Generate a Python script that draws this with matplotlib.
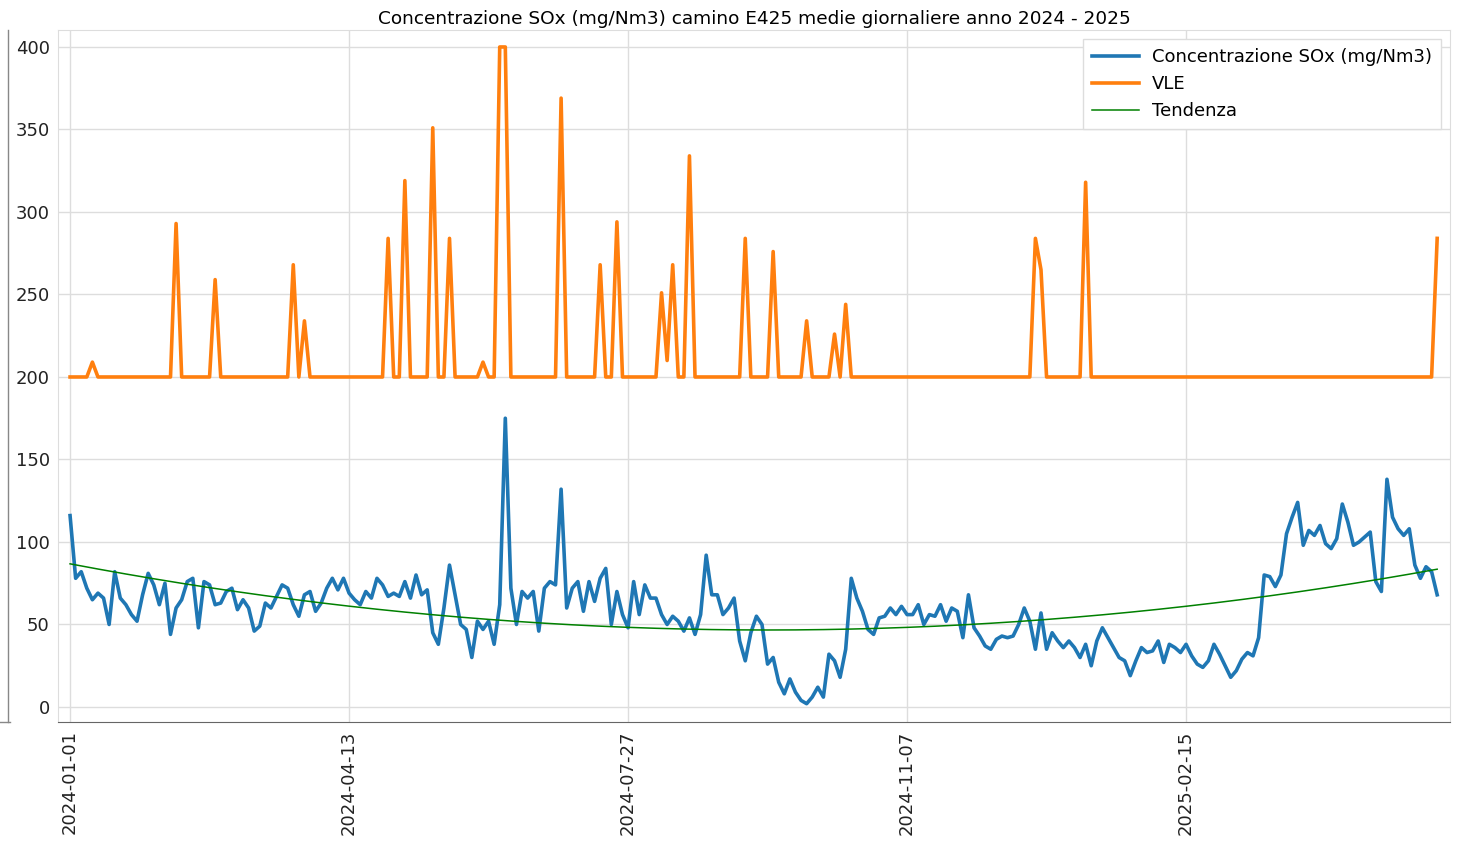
import numpy as np
import matplotlib.pyplot as plt
from matplotlib.lines import Line2D

# medie giornaliere SOx (un valore ogni 2 righe del dataset)
sox = [116, 78, 82, 72, 65, 69, 66, 50, 82, 66, 62, 56, 52, 68, 81, 74, 62, 75, 44, 60,
       65, 76, 78, 48, 76, 74, 62, 63, 70, 72, 59, 65, 60, 46, 49, 63, 60, 67, 74, 72,
       62, 55, 68, 70, 58, 63, 72, 78, 71, 78, 69,
       65, 62, 70, 66, 78, 74, 67, 69, 67, 76, 66, 80, 68, 71, 45, 38, 60, 86, 68, 50,
       47, 30, 52, 47, 52, 38, 62, 175, 72, 50, 70, 66, 70, 46, 72, 76, 74, 132, 60, 72,
       76, 58, 76, 64, 78, 84, 50, 70, 56, 48,
       76, 56, 74, 66, 66, 56, 50, 55, 52, 46, 54, 44, 56, 92, 68, 68, 56, 60, 66, 40,
       28, 45, 55, 50, 26, 30, 15, 8, 17, 9, 4, 2, 6, 12, 6, 32, 28, 18, 35, 78,
       66, 58, 47, 44, 54, 55, 60, 56, 61, 56,
       56, 62, 50, 56, 55, 62, 52, 60, 58, 42, 68, 48, 43, 37, 35, 41, 43, 42, 43, 50,
       60, 52, 35, 57, 35, 45, 40, 36, 40, 36, 30, 38, 25, 40, 48, 42, 36, 30, 28, 19,
       28, 36, 33, 34, 40, 27, 38, 36, 33, 38,
       31, 26, 24, 28, 38, 32, 25, 18, 22, 29, 33, 31, 42, 80, 79, 73, 80, 105, 115, 124,
       98, 107, 104, 110, 99, 96, 102, 123, 112, 98, 100, 103, 106, 76, 70, 138, 115, 108, 104, 108,
       86, 78, 85, 82, 68]

# valore limite di emissione
vle = [200, 200, 200, 200, 209, 200, 200, 200, 200, 200,
       200, 200, 200, 200, 200, 200, 200, 200, 200, 293,
       200, 200, 200, 200, 200, 200, 259, 200, 200, 200,
       200, 200, 200, 200, 200, 200, 200, 200, 200, 200,
       268, 200, 234, 200, 200, 200, 200, 200, 200, 200,
       200, 200, 200, 200, 200, 200, 200, 284, 200, 200,
       319, 200, 200, 200, 200, 351, 200, 200, 284, 200,
       200, 200, 200, 200, 209, 200, 200, 400, 400, 200,
       200, 200, 200, 200, 200, 200, 200, 200, 369, 200,
       200, 200, 200, 200, 200, 268, 200, 200, 294, 200,
       200, 200, 200, 200, 200, 200, 251, 210, 268, 200,
       200, 334, 200, 200, 200, 200, 200, 200, 200, 200,
       200, 284, 200, 200, 200, 200, 276, 200, 200, 200,
       200, 200, 234, 200, 200, 200, 200, 226, 200, 244,
       200, 200, 200, 200, 200, 200, 200, 200, 200, 200,
       200, 200, 200, 200, 200, 200, 200, 200, 200, 200,
       200, 200, 200, 200, 200, 200, 200, 200, 200, 200,
       200, 200, 200, 284, 265, 200, 200, 200, 200, 200,
       200, 200, 318, 200, 200, 200, 200, 200, 200, 200,
       200, 200, 200, 200, 200, 200, 200, 200, 200, 200,
       200, 200, 200, 200, 200, 200, 200, 200, 200, 200,
       200, 200, 200, 200, 200, 200, 200, 200, 200, 200,
       200, 200, 200, 200, 200, 200, 200, 200, 200, 200,
       200, 200, 200, 200, 200, 200, 200, 200, 200, 200,
       200, 200, 200, 200, 200, 284]

tick_pos = [0, 100, 200, 300, 400]
tick_labels = ['2024-01-01', '2024-04-13', '2024-07-27', '2024-11-07', '2025-02-15']

x = np.arange(len(sox)) * 2
sox = np.array(sox, dtype=float)
vle = np.array(vle, dtype=float)

# tendenza polinomiale di 2 grado
coef = np.polyfit(x, sox, 2)
trend = np.polyval(coef, x)

fig = plt.figure(figsize=(14.7, 8.42), dpi=100)
ax = fig.add_axes([0.0395, 0.1425, 0.9469, 0.8219])

ax.plot(x, sox, color='#1f77b4', lw=2.6, label='Concentrazione SOx (mg/Nm3)')
ax.plot(x, vle, color='#ff7f0e', lw=2.6, label='VLE')
ax.plot(x, trend, color='green', lw=1.1, label='Tendenza')

ax.set_xlim(-4.3, 494.6)
ax.set_ylim(-9.1, 410.3)
ax.set_xticks(tick_pos)
ax.set_xticklabels(tick_labels, rotation=90)
ax.set_yticks([0, 50, 100, 150, 200, 250, 300, 350, 400])
ax.tick_params(length=0, labelsize=13, pad=6, colors='#222222')
ax.grid(True, color='#dddddd', lw=1)
ax.set_axisbelow(True)
for s in ['top', 'left', 'right']:
    ax.spines[s].set_color('#dddddd')
ax.spines['bottom'].set_color('#666666')

ax.set_title('Concentrazione SOx (mg/Nm3) camino E425 medie giornaliere anno 2024 - 2025',
             fontsize=13.3, pad=4)
ax.legend(loc='upper right', fontsize=13, framealpha=1, edgecolor='#dddddd',
          fancybox=False, borderpad=0.5, handlelength=2.6, handletextpad=0.7)

# bordo della figura precedente (ritaglio)
fig.add_artist(Line2D([8 / 1470, 8 / 1470], [1 - 30 / 842, 1 - 722 / 842],
                      color='#888888', lw=1))
fig.add_artist(Line2D([0, 10 / 1470], [1 - 722 / 842, 1 - 722 / 842],
                      color='#888888', lw=1))

plt.savefig('out.png', dpi=100)
plt.close()
